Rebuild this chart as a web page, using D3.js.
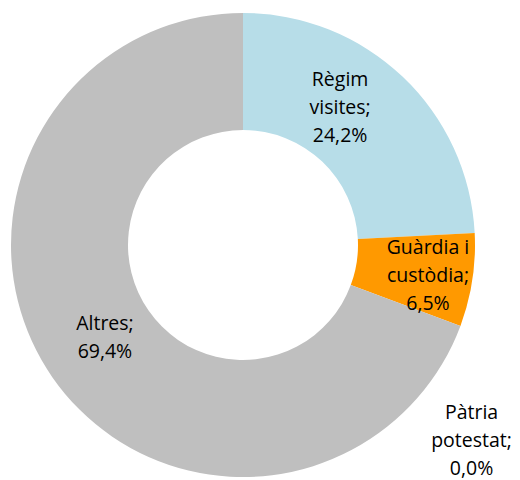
<!DOCTYPE html>
<html><head><meta charset="utf-8">
<script src="https://cdn.jsdelivr.net/npm/d3@7"></script>
<style>body{margin:0;background:#fff}</style>
</head><body>
<svg id="chart" width="520" height="480"></svg>
<script>
const categories = ["Règim visites", "Guàrdia i custòdia", "Pàtria potestat", "Altres"];
const values = [24.2, 6.5, 0.0, 69.4];
const colors = ["#b7dde8", "#ff9900", "#7f7f7f", "#bfbfbf"];
const labelLines = [["Règim", "visites;", "24,2%"], ["Guàrdia i", "custòdia;", "6,5%"], ["Pàtria", "potestat;", "0,0%"], ["Altres;", "69,4%"]];
// label nudges relative to arc centroid (layout, not data)
const labelOffsets = [[-22, -13], [14, 4], [-17, 104], [4, -7]];

const svg = d3.select("#chart");
const cx = 243, cy = 245, R = 232, r = 115;
const g = svg.append("g").attr("transform", `translate(${cx},${cy})`);
const data = categories.map((c, i) => ({c, v: values[i], i}));
const pie = d3.pie().value(d => d.v).sort(null);
const arcs = pie(data);
const arc = d3.arc().innerRadius(r).outerRadius(R);
g.selectAll("path").data(arcs).enter().append("path")
  .attr("d", arc).attr("fill", d => colors[d.data.i]);

const labelArc = d3.arc().innerRadius(173).outerRadius(173);
const outArc = d3.arc().innerRadius(262).outerRadius(262);
const lh = 28;
arcs.forEach((a, k) => {
  const p = a.data.v === 0 ? outArc.centroid(a) : labelArc.centroid(a);
  const off = labelOffsets[k];
  const lines = labelLines[k];
  const t = g.append("text")
    .attr("text-anchor", "middle")
    .attr("font-family", "'Open Sans', sans-serif")
    .attr("font-size", 19.5)
    .attr("fill", "#000");
  lines.forEach((ln, j) => {
    t.append("tspan").attr("x", p[0] + off[0])
      .attr("y", p[1] + off[1] + (j - (lines.length - 1) / 2) * lh + 7)
      .text(ln);
  });
});
</script>
</body></html>
